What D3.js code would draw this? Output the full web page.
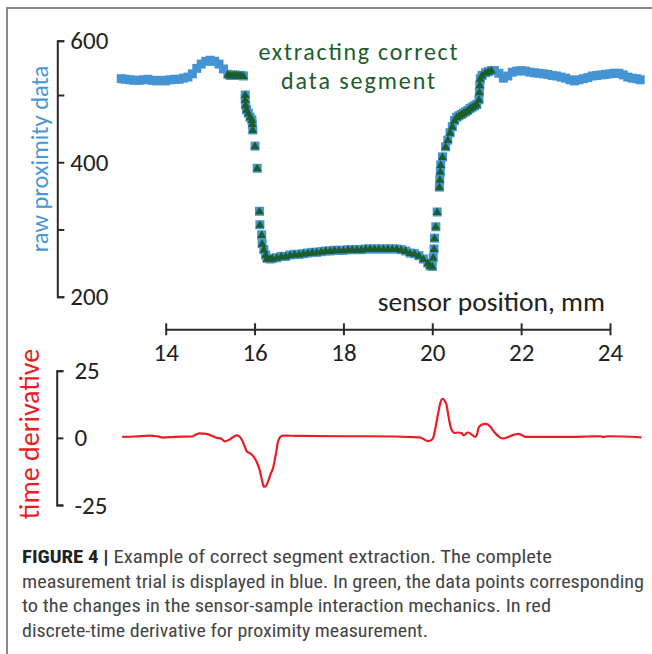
<!DOCTYPE html>
<html>
<head>
<meta charset="utf-8">
<script src="https://cdn.jsdelivr.net/npm/d3@7"></script>
<style>
  body { margin: 0; background: #fff; }
  svg { display: block; }
  .tick text { font-family: Carlito, Calibri, Lato, sans-serif; font-size: 25px; fill: #222; }
  .axis path, .axis line { stroke: #2a2a2a; stroke-width: 2; }
</style>
</head>
<body>
<svg id="chart" width="652" height="654"></svg>
<script>
// sensor position (mm) and raw proximity reading, blue trace
const position = [
  13.0, 13.1, 13.2, 13.3, 13.4, 13.5, 13.6, 13.7, 13.8, 13.9, 14.0, 14.1, 14.2, 14.3, 14.4,
  14.5, 14.6, 14.7, 14.8, 14.9, 15.0, 15.1, 15.2, 15.3,
  15.4, 15.45, 15.5, 15.55, 15.6, 15.65, 15.7, 15.75,
  15.79, 15.79, 15.8, 15.82, 15.86, 15.9, 15.94, 15.95, 15.96, 16.01, 16.06, 16.11, 16.12, 16.16,
  16.17, 16.21, 16.25, 16.28, 16.35,
  16.4, 16.5, 16.6, 16.7, 16.8, 16.9, 17.0, 17.1, 17.2, 17.3, 17.4, 17.5, 17.6, 17.7, 17.8, 17.9,
  18.0, 18.1, 18.2, 18.3, 18.4, 18.5, 18.6, 18.7, 18.8, 18.9, 19.0, 19.1, 19.2, 19.3, 19.4, 19.5,
  19.6, 19.7, 19.8, 19.9, 19.95, 20.0,
  20.02, 20.04, 20.05, 20.08, 20.11, 20.16, 20.17, 20.18, 20.19, 20.23, 20.3, 20.35, 20.4, 20.45,
  20.5, 20.55, 20.6, 20.65, 20.7, 20.75, 20.8, 20.85, 20.9, 20.95, 21.0, 21.05, 21.06, 21.07, 21.08,
  21.12, 21.2, 21.26, 21.33,
  21.4, 21.5, 21.6, 21.7, 21.8, 21.9, 22.0, 22.1, 22.2, 22.3, 22.4, 22.5, 22.6, 22.7, 22.8, 22.9,
  23.0, 23.1, 23.2, 23.3, 23.4, 23.5, 23.6, 23.7, 23.8, 23.9, 24.0, 24.1, 24.2, 24.3, 24.4, 24.5,
  24.6, 24.68
];
const proximity = [
  530, 529, 528, 527, 527, 528, 529, 527, 526, 527, 526, 528, 529, 529, 531,
  533, 539, 549, 557, 562, 564, 562, 557, 548,
  538, 536, 536, 537, 536, 536, 536, 535,
  500, 493, 485, 478, 473, 467, 463, 457, 448, 424, 391, 327, 307, 292,
  279, 270, 262, 257, 256,
  257, 258, 260, 260, 262, 263, 263, 264, 265, 266, 266, 267, 268, 268, 269, 269,
  269, 270, 270, 270, 270, 271, 271, 271, 271, 271, 271, 271, 271, 270, 268, 265,
  264, 261, 256, 250, 246, 245,
  258, 271, 287, 304, 326, 363, 374, 386, 396, 408, 423, 433, 444, 453,
  462, 467, 469, 471, 473, 475, 477, 480, 482, 484, 486, 493, 505, 518, 530,
  536, 541, 543, 545,
  545, 540, 531, 535, 542, 544, 545, 544, 542, 541, 540, 539, 538, 536, 535, 533,
  531, 528, 526, 528, 530, 532, 535, 536, 537, 538, 539, 540, 540, 537, 533, 531,
  530, 528
];
// extracted segment (green)
const segmentStart = 15.4;
const segmentEnd = 21.33;

// discrete-time derivative (red)
const derivPosition = [
  13.02, 13.3, 13.65, 13.8, 13.95, 14.2, 14.59, 14.68, 14.76, 14.92, 15.05, 15.15, 15.25, 15.33,
  15.45, 15.6, 15.66, 15.71, 15.77, 15.82, 15.9, 15.97, 16.05, 16.12, 16.17, 16.21, 16.25, 16.31,
  16.36, 16.42, 16.48, 16.53, 16.58, 16.65, 17.0, 18.0, 18.6, 19.72, 19.82, 19.91, 19.98, 20.02,
  20.08, 20.14, 20.19, 20.23, 20.28, 20.32, 20.36, 20.4, 20.45, 20.51, 20.58, 20.66, 20.7, 20.74,
  20.78, 20.81, 20.89, 20.96, 21.01, 21.04, 21.1, 21.19, 21.25, 21.3, 21.38, 21.45, 21.52, 21.6,
  21.68, 21.75, 21.85, 21.94, 22.02, 22.09, 22.5, 23.1, 23.5, 23.78, 23.85, 23.95, 24.3, 24.71
];
const derivative = [
  0.4, 0.5, 0.85, 0.6, 0.1, 0.4, 0.5, 1.2, 1.7, 1.5, 0.7, 0.0, -0.3, -1.3,
  -0.5, 0.95, 0.5, -0.6, -2.8, -4.9, -5.8, -6.8, -9.0, -12.3, -16.0, -18.2, -18.0, -16.0,
  -13.5, -11.0, -6.0, -1.3, 0.4, 0.85, 0.7, 0.6, 0.6, 0.2, -0.6, -1.25, -0.8, 0.0,
  4.5, 9.8, 13.5, 14.5, 13.8, 12.3, 8.5, 4.9, 2.5, 1.8, 2.0, 1.8, 1.0, 1.2,
  1.9, 2.0, 1.2, 0.4, 1.5, 3.7, 4.8, 5.2, 5.0, 4.3, 2.5, 1.2, 0.2, -0.25,
  0.1, 0.6, 1.2, 1.5, 1.0, 0.4, 0.4, 0.4, 0.5, 0.6, 0.3, 0.6, 0.5, 0.2
];

const xTicks = [14, 16, 18, 20, 22, 24];
const rawTicks = [200, 300, 400, 500, 600];
const derivTicks = [-25, 0, 25];

const noteLines = ["extracting correct", "data segment"];
const captionLines = [
  "Example of correct segment extraction. The complete",
  "measurement trial is displayed in blue. In green, the data points corresponding",
  "to the changes in the sensor-sample interaction mechanics. In red",
  "discrete-time derivative for proximity measurement."
];

const blue = "#4494d4", green = "#1b5e2c", red = "#ec1c24";
const labelFont = "Carlito, Calibri, Lato, sans-serif";

const svg = d3.select("#chart");

// frame of the figure
svg.append("path")
  .attr("d", "M7,654V8H652")
  .attr("fill", "none")
  .attr("stroke", "#8c8c8c")
  .attr("stroke-width", 2);

const x = d3.scaleLinear().domain([14, 24]).range([165.7, 610]);
// the printed axis is squeezed above 500
const y = d3.scaleLinear().domain([200, 500, 600]).range([296.7, 95, 40.7]);
const yd = d3.scaleLinear().domain([-25, 25]).range([505, 370.7]);

const points = position.map((p, i) => ({ p: p, v: proximity[i] }));

// blue squares
svg.append("g")
  .selectAll("rect")
  .data(points)
  .join("rect")
  .attr("x", d => x(d.p) - 4.5)
  .attr("y", d => y(d.v) - 4.5)
  .attr("width", 9)
  .attr("height", 9)
  .attr("fill", blue);

// green triangles for the extracted segment
svg.append("g")
  .selectAll("path")
  .data(points.filter(d => d.p >= segmentStart && d.p <= segmentEnd))
  .join("path")
  .attr("transform", d => `translate(${x(d.p)},${y(d.v) + 0.5})`)
  .attr("d", d3.symbol(d3.symbolTriangle, 34))
  .attr("fill", green);

// top y axis
svg.append("g")
  .attr("class", "axis")
  .attr("transform", "translate(57.3,0)")
  .call(d3.axisRight(y).tickValues(rawTicks).tickSize(7).tickPadding(6)
    .tickFormat(d => d % 200 === 0 ? d : ""))
  .call(g => g.select(".domain").attr("fill", "none"));

svg.append("text")
  .attr("transform", "translate(48,159) rotate(-90)")
  .attr("text-anchor", "middle")
  .attr("font-family", labelFont)
  .attr("font-size", 24.5)
  .attr("fill", "#4a97d6")
  .text("raw proximity data");

// two-line note
const noteWidths = [199, 154];
noteLines.forEach((s, i) => {
  svg.append("text")
    .attr("x", 358)
    .attr("y", 60 + i * 29)
    .attr("text-anchor", "middle")
    .attr("font-family", labelFont)
    .attr("font-size", 24)
    .attr("textLength", noteWidths[i])
    .attr("lengthAdjust", "spacing")
    .attr("fill", green)
    .text(s);
});

// x axis between the two panels
svg.append("g")
  .attr("class", "axis")
  .attr("transform", "translate(0,329.3)")
  .call(d3.axisBottom(x).tickValues(xTicks).tickSize(6).tickSizeOuter(0).tickPadding(8))
  .call(g => g.selectAll(".tick line").attr("y1", -6));

svg.append("text")
  .attr("x", 605)
  .attr("y", 311)
  .attr("text-anchor", "end")
  .attr("font-family", labelFont)
  .attr("font-size", 27.5)
  .attr("fill", "#222")
  .text("sensor position, mm");

// derivative panel
svg.append("g")
  .attr("class", "axis")
  .attr("transform", "translate(56.7,0)")
  .call(d3.axisRight(yd).tickValues(derivTicks).tickSize(6.7).tickPadding(11)
    .tickFormat(d => String(d)))
  .call(g => g.select(".domain").attr("fill", "none"));

svg.append("text")
  .attr("transform", "translate(39,434) rotate(-90)")
  .attr("text-anchor", "middle")
  .attr("font-family", labelFont)
  .attr("font-size", 28)
  .attr("fill", red)
  .text("time derivative");

const line = d3.line()
  .x((d, i) => x(derivPosition[i]))
  .y(d => yd(d))
  .curve(d3.curveMonotoneX);

svg.append("path")
  .datum(derivative)
  .attr("d", line)
  .attr("fill", "none")
  .attr("stroke", red)
  .attr("stroke-width", 2.2);

// caption
const cap = svg.append("g")
  .attr("font-family", "'Liberation Sans Narrow', 'Arial Narrow', 'Roboto Condensed', sans-serif")
  .attr("font-size", 18)
  .attr("fill", "#444");
const capWidths = [530, 622, 529, 406];
captionLines.forEach((txt, i) => {
  const t = cap.append("text")
    .attr("x", 22)
    .attr("y", 563 + i * 24.6)
    .attr("textLength", capWidths[i])
    .attr("lengthAdjust", "spacingAndGlyphs");
  if (i === 0) {
    t.append("tspan").attr("font-weight", "bold").attr("fill", "#222").text("FIGURE 4 | ");
  }
  t.append("tspan").text(txt);
});
</script>
</body>
</html>
